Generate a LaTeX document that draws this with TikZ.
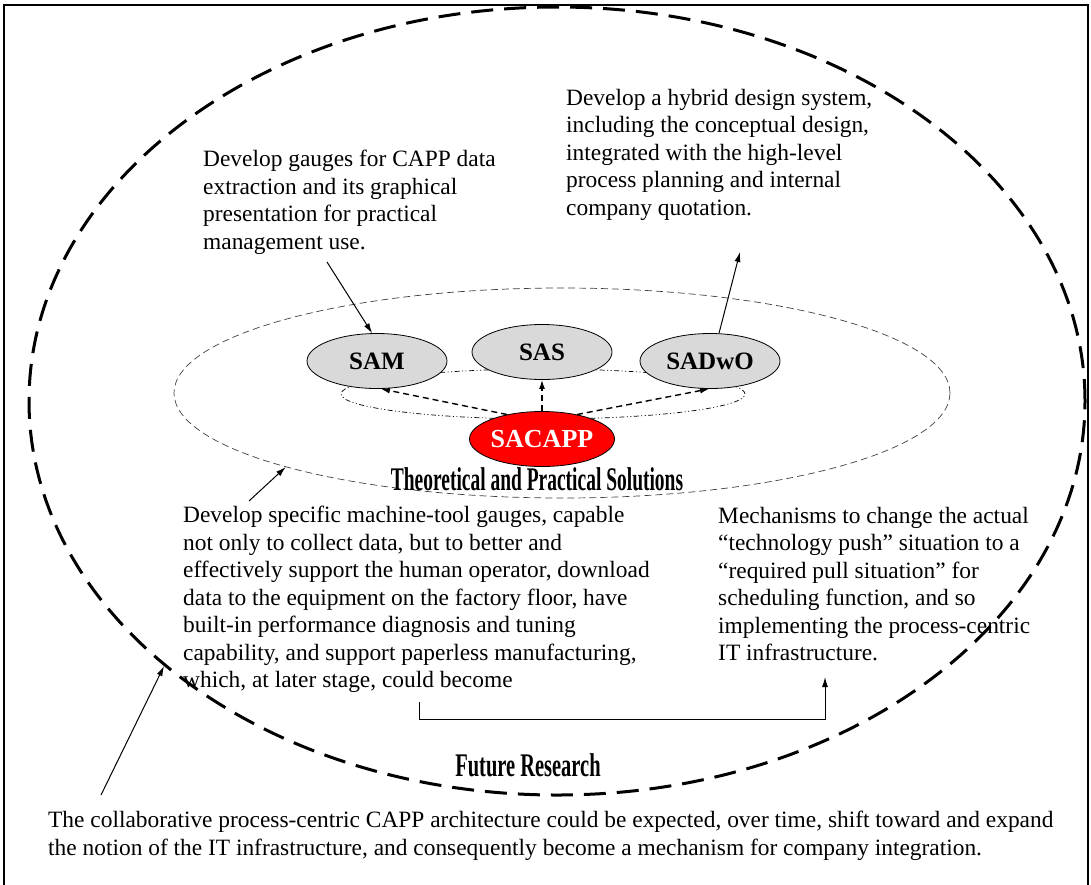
\documentclass[tikz,border=0pt]{standalone}
\usepackage{fontspec}
\setmainfont{Liberation Serif}
\usetikzlibrary{shapes.geometric,arrows.meta}
\definecolor{nodegray}{RGB}{217,217,217}
\definecolor{sared}{RGB}{255,0,0}
\begin{document}
\begin{tikzpicture}[x=1pt,y=-1pt,
  txt/.style={anchor=north west, inner sep=0pt, align=left, font=\fontsize{23.4}{27.5}\selectfont},
  oval/.style={ellipse, draw, line width=0.8pt, fill=nodegray, minimum width=140pt, minimum height=55pt, inner sep=0pt, font=\fontsize{25}{28}\selectfont\bfseries},
  arr/.style={line width=1pt, -{Latex[length=10pt,width=6pt]}},
  darr/.style={line width=1.4pt, dash pattern=on 6pt off 4pt, -{Latex[length=9pt,width=6pt]}},
  wordart/.style={inner sep=0pt},
]
\useasboundingbox (0,0) rectangle (1091,884);
\draw[line width=2pt] (4,890) -- (4,5) -- (1088,5) -- (1088,890);

% big dashed ellipse
\node[ellipse, draw, line width=3pt, dash pattern=on 22pt off 11pt, minimum width=1056pt, minimum height=788pt, inner sep=0pt] (outer) at (557,401) {};
% inner dashed ellipse
\node[ellipse, draw=black!75, line width=0.7pt, dash pattern=on 7pt off 4pt, minimum width=776pt, minimum height=210pt, inner sep=0pt] (inner) at (562,393) {};
% dash-dot ellipse
\node[ellipse, draw, line width=0.7pt, dash pattern=on 5pt off 2.5pt on 1pt off 2.5pt on 1pt off 2.5pt, minimum width=404pt, minimum height=50pt, inner sep=0pt] (ring) at (543,394) {};

\node[oval] (sam) at (377,361) {SAM};
\node[oval] (sas) at (542,352) {SAS};
\node[oval] (sadwo) at (710,361) {SADwO};
\node[oval, fill=sared, text=white, font=\fontsize{26}{28}\selectfont\bfseries] (sacapp) at (542,439) {SACAPP};

\draw[darr] (sacapp.145) -- (sam.-82);
\draw[darr] (sacapp.north) -- (sas.south);
\draw[darr] (sacapp.35) -- (sadwo.-92);

\node[wordart] (tps) at (537,479) {\scalebox{0.59}[1]{\fontsize{33}{36}\selectfont\bfseries Theoretical and Practical Solutions}};
\node[wordart] (fr) at (528,765) {\scalebox{0.62}[1]{\fontsize{33}{36}\selectfont\bfseries Future Research}};

\node[txt] (tl) at (203,150) {Develop gauges for CAPP data\\extraction and its graphical\\presentation for practical\\management use.};
\node[txt] (tr) at (566,89) {Develop a hybrid design system,\\including the conceptual design,\\integrated with the high-level\\process planning and internal\\company quotation.};
\node[txt] (bl) at (183,506) {Develop specific machine-tool gauges, capable\\not only to collect data, but to better and\\effectively support the human operator, download\\data to the equipment on the factory floor, have\\built-in performance diagnosis and tuning\\capability, and support paperless manufacturing,\\which, at later stage, could become};
\node[txt] (br) at (718,507) {Mechanisms to change the actual\\“technology push” situation to a\\“required pull situation” for\\scheduling function, and so\\implementing the process-centric\\IT infrastructure.};
\node[txt] (bt) at (48,811) {The collaborative process-centric CAPP architecture could be expected, over time, shift toward and expand\\the notion of the IT infrastructure, and consequently become a mechanism for company integration.};

\coordinate (a1s) at (327,262);
\draw[arr] (a1s) -- (sam.100);
\coordinate (a2e) at (740,252);
\draw[arr] (sadwo.72) -- (a2e);
\coordinate (a3s) at (249,501);
\draw[arr] (a3s) -- (inner.195);
\coordinate (a4s) at (101,795);
\draw[arr] (a4s) -- (outer.214);
\coordinate (b1) at (419,702);
\coordinate (b2) at (825,677);
\draw[arr] (b1) -- ++(0,17) -| (b2);
\end{tikzpicture}
\end{document}
